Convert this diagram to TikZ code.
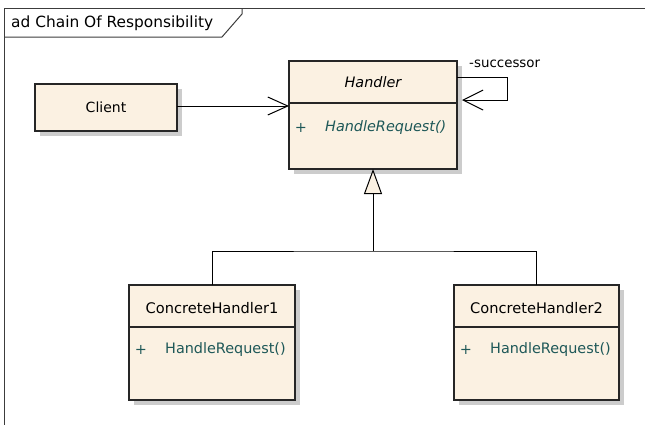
\documentclass[tikz,border=0pt]{standalone}
\usepackage{fontspec}
\setmainfont{DejaVu Sans}
\usetikzlibrary{arrows.meta,shadows}
\definecolor{classfill}{RGB}{251, 241, 226}
\definecolor{optext}{RGB}{30, 88, 88}
\definecolor{framegray}{RGB}{60, 60, 60}

\begin{document}
\begin{tikzpicture}[x=1pt,y=-1pt]

\tikzstyle{classbox} = [draw=black!85, line width=1.2, fill=classfill,
    inner sep=0, outer sep=0,
    drop shadow={shadow xshift=5pt, shadow yshift=-5pt, fill=black!20, opacity=1}]
\tikzstyle{classline} = [draw=black!85, line width=1.2]
\tikzstyle{nametext} = [inner sep=1, font=\fontsize{14}{16}\selectfont]
\tikzstyle{optext} = [inner sep=1, text=optext, font=\fontsize{14.4}{16}\selectfont]
\tikzstyle{link} = [draw=black, line width=1]

\useasboundingbox (0,0) rectangle (645,424);

% =========================
% diagram frame with its tab
% =========================
\draw[framegray, line width=1] (660,8) -- (4,8) -- (4,440);
\draw[framegray, line width=1] (4,37) -- (222,37) -- (242,14) -- (242,8);
\node[nametext, anchor=west, font=\fontsize{15.4}{17}\selectfont] (frameTitle) at (10,23) {ad Chain Of Responsibility};

% =========================
% Client
% =========================
\node[classbox, minimum width=142, minimum height=47] (client) at (106,107.5) {};
\node[nametext] (clientName) at (106,107.5) {Client};

% =========================
% Handler (abstract)
% =========================
\node[classbox, minimum width=168, minimum height=108] (handler) at (373,115) {};
\draw[classline] (289,103) -- (457,103);
\node[nametext, font=\fontsize{14.4}{16}\selectfont\itshape] (handlerName) at (373,82) {Handler};
\node[optext] (handlerPlus) at (301,128) {+};
\node[optext, anchor=west, font=\fontsize{14.4}{16}\selectfont\itshape] (handlerOp) at (324,128) {HandleRequest()};

% =========================
% ConcreteHandler1 and ConcreteHandler2
% =========================
\node[classbox, minimum width=166, minimum height=115] (chA) at (212,342.5) {};
\draw[classline] (129,327) -- (295,327);
\node[nametext, font=\fontsize{14.6}{16}\selectfont] (chAName) at (212,308) {ConcreteHandler1};
\node[optext] (chAPlus) at (141,350) {+};
\node[optext, anchor=west] (chAOp) at (164,350) {HandleRequest()};

\node[classbox, minimum width=165, minimum height=115] (chB) at (536.5,342.5) {};
\draw[classline] (454,327) -- (619,327);
\node[nametext, font=\fontsize{14.6}{16}\selectfont] (chBName) at (536.5,308) {ConcreteHandler2};
\node[optext] (chBPlus) at (466,350) {+};
\node[optext, anchor=west] (chBOp) at (489,350) {HandleRequest()};

% =========================
% associations
% =========================
\draw[link, -{Straight Barb[length=20pt, width=18pt]}] (client.east |- 0,106) -- (handler.west |- 0,106);

\coordinate (loopTop) at (507,77);
\coordinate (loopEnd) at (462,100);
\draw[link, -{Straight Barb[length=20pt, width=20pt]}] (handler.east |- loopTop) -- (loopTop) |- (loopEnd);
\node[nametext, anchor=west, font=\fontsize{13.4}{15}\selectfont] (succLabel) at (468,64) {-successor};

% =========================
% generalization
% =========================
\coordinate (branch) at (373,251);
\draw[link, -{Triangle[length=25pt, width=18pt, fill=classfill]}] (branch) -- (handler.south);
\draw[link] (chA.north) |- (branch) -| (chB.north);

\end{tikzpicture}
\end{document}
